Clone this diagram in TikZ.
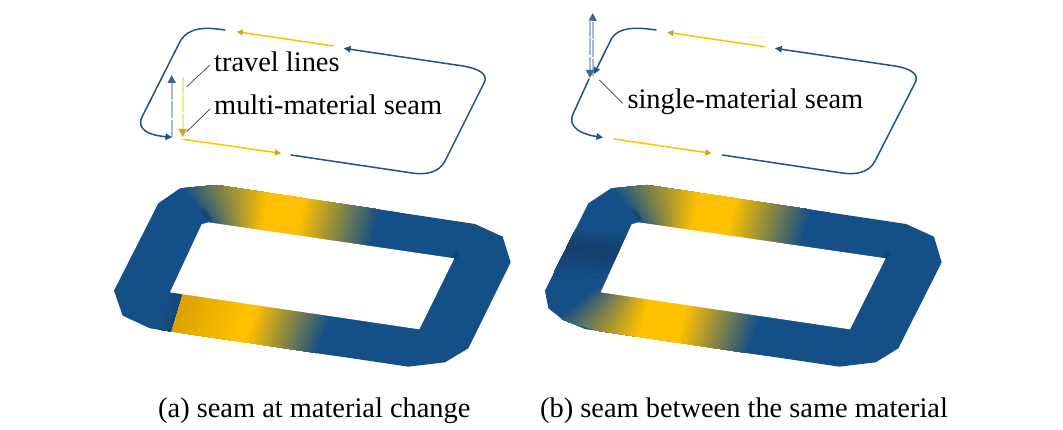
\documentclass[tikz,border=0pt]{standalone}
\usepackage{fontspec}
\setmainfont{Liberation Serif}
\usetikzlibrary{arrows.meta,calc}
\definecolor{bluew}{HTML}{1F5288}
\definecolor{goldw}{HTML}{FFC000}
\definecolor{ringb}{HTML}{154F87}
\definecolor{ringd}{HTML}{10385F}
\definecolor{ringm}{HTML}{123F6B}
\definecolor{rings}{HTML}{14487A}
\definecolor{ringg}{HTML}{FFC000}
\definecolor{ringgd}{HTML}{D9A000}
\definecolor{paleb}{HTML}{A7BBD5}
\definecolor{paleg}{HTML}{FFE08A}
\definecolor{tipb}{HTML}{3E6790}
\definecolor{tipg}{HTML}{D2A51E}
\tikzset{
 wire/.style={line width=1.5pt,line cap=round},
 bluewire/.style={wire,draw=bluew},
 goldwire/.style={wire,draw=goldw},
 btip/.style={-{Triangle[length=6.5pt,width=6.5pt,color=bluew]}},
 gtip/.style={-{Triangle[length=6pt,width=6pt,color=tipg]}},
 travelb/.style={line width=1.8pt,draw=paleb,dash pattern=on 17pt off 1.5pt,-{Triangle[length=8pt,width=8pt,color=tipb]}},
 travelg/.style={line width=1.8pt,draw=paleg,dash pattern=on 17pt off 1.5pt,-{Triangle[length=8pt,width=8pt,color=tipg]}},
 lead/.style={line width=0.7pt,draw=black!75},
 lab/.style={anchor=base west,inner sep=0pt,font=\fontsize{28.4}{30}\selectfont},
 captext/.style={anchor=base west,inner sep=0pt,font=\fontsize{28.4}{30}\selectfont},
 zoomcs/.style={x=0.33333pt,y=-0.33333pt,shift={(#1,-175pt)}}
}
% gradient between two isolines a1-a2 and b1-b2
\newcommand{\gradq}[6]{%
 \foreach \i in {0,...,40}{%
  \pgfmathsetmacro\tfrac{\i/40}\pgfmathsetmacro\pp{100-100*\tfrac}%
  \fill[#5!\pp!#6] ($#1!\tfrac!#3$) -- ($#2!\tfrac!#4$) -- #4 -- #3 -- cycle;
 }}
\newcommand{\softline}[2]{%
 \foreach \w in {18,12,7}{\draw[ringd,opacity=.2,line width=\w*0.33pt,line cap=round] #1 -- #2;}}
\begin{document}
\begin{tikzpicture}[x=1pt,y=-1pt]
\useasboundingbox (0,0) rectangle (1063,430);
%
% ---- left ring
\begin{scope}[zoomcs=100pt]
 \begin{scope}
  \clip (240,40)--(350,30)--(1125,147)--(1208,185)--(1232,262)--(1105,520)--(1035,562)--(925,575)--(150,460)--(68,422)--(42,347)--(175,85)--cycle;
  \fill[ringb] (0,0) rectangle (1260,600);
  \gradq{(228,22)}{(335,150)}{(510,40)}{(476,190)}{ringb}{ringg}
  \gradq{(510,40)}{(476,190)}{(615,50)}{(582,195)}{ringg}{ringg}
  \gradq{(615,50)}{(582,195)}{(842,85)}{(806,235)}{ringg}{ringb}
  \fill[ringb] (842,85) -- (806,235) -- (900,245) -- (900,95) -- cycle;
  \softline{(312,108)}{(328,132)}
  \softline{(1070,235)}{(1062,250)}
  \gradq{(250,345)}{(205,480)}{(440,370)}{(395,510)}{ringgd}{ringg}
  \gradq{(440,370)}{(395,510)}{(470,375)}{(435,510)}{ringg}{ringg}
  \gradq{(470,375)}{(435,510)}{(695,415)}{(645,545)}{ringg}{ringb}
  \fill[ringb] (695,415) -- (645,545) -- (700,560) -- (740,420) -- cycle;
  \gradq{(205,345)}{(170,475)}{(247,352)}{(210,475)}{ringb}{rings}
 \end{scope}
 \fill[white] (325,142)--(1063,250)--(958,463)--(210,352)--(305,148)--cycle;
\end{scope}
%
% ---- right ring
\begin{scope}[zoomcs=530pt]
 \begin{scope}
  \clip (243,40)--(352,30)--(1128,147)--(1212,185)--(1235,262)--(1105,520)--(1037,562)--(928,575)--(165,462)--(100,435)--(55,400)--(45,347)--(175,85)--cycle;
  \fill[ringb] (0,0) rectangle (1260,600);
  \gradq{(228,22)}{(335,150)}{(510,40)}{(476,190)}{ringb}{ringg}
  \gradq{(510,40)}{(476,190)}{(618,50)}{(585,195)}{ringg}{ringg}
  \gradq{(618,50)}{(585,195)}{(845,85)}{(806,235)}{ringg}{ringb}
  \fill[ringb] (845,85) -- (806,235) -- (900,245) -- (900,95) -- cycle;
  \softline{(312,108)}{(328,132)}
  \softline{(1073,235)}{(1065,250)}
  \gradq{(120,160)}{(320,170)}{(100,218)}{(300,235)}{ringb}{ringm}
  \gradq{(100,218)}{(300,235)}{(70,300)}{(270,310)}{ringm}{ringb}
  \gradq{(195,340)}{(75,430)}{(355,365)}{(320,500)}{ringb}{ringg}
  \gradq{(355,365)}{(320,500)}{(470,375)}{(440,510)}{ringg}{ringg}
  \gradq{(470,375)}{(440,510)}{(695,415)}{(645,545)}{ringg}{ringb}
  \fill[ringb] (695,415) -- (645,545) -- (700,560) -- (740,420) -- cycle;
 \end{scope}
 \fill[white] (325,142)--(1067,250)--(960,463)--(212,352)--(305,148)--cycle;
\end{scope}
%
% ---- left tool path
\draw[travelb] (171.7,136.7) -- (171.7,75);
\draw[travelg] (182.7,76.7) -- (182.7,137);
\draw[bluewire] (225,30) .. controls (205,27) and (188,27) .. (180,41.7) -- (142.5,116) .. controls (135,130) and (150,136) .. (170,137);
\draw[bluewire,btip] (166,136.8) -- (172,137.3);
\draw[goldwire,gtip] (333.3,46) -- (236.7,31.7);
\draw[bluewire] (345,48.5) -- (463,66) .. controls (478,68.5) and (489,74) .. (484,83) -- (445,161) .. controls (439,173) and (425,175) .. (412,173) -- (291,155);
\draw[bluewire,btip] (350,49.2) -- (344,48.3);
\draw[goldwire,gtip] (183.3,139.3) -- (281,153.3);
\coordinate (tlend) at (186.7,86.7);
\coordinate (mmend) at (186.7,131.7);
\node[lab] (tl) at (214,72) {travel lines};
\node[lab] (mm) at (214,115) {multi-material seam};
\draw[lead] (210,65) -- (tlend);
\draw[lead] (210,109) -- (mmend);
%
% ---- right tool path
\draw[travelb] (592.7,76) -- (592.7,13);
\draw[travelb] (590,20) -- (590,78);
\draw[bluewire,btip] (656,30) .. controls (636,27) and (619,27) .. (611.7,38.3) -- (594,74);
\draw[bluewire] (589,79) -- (573.5,113) .. controls (566,127) and (582,135) .. (600,137);
\draw[bluewire,btip] (597,136.6) -- (603,137.5);
\draw[goldwire,gtip] (764.3,46.7) -- (667.3,32.3);
\draw[bluewire] (776,48.5) -- (895,66) .. controls (910,68.5) and (920,74) .. (915,83) -- (875,161) .. controls (869,173) and (855,175) .. (842,173) -- (722.3,155);
\draw[bluewire,btip] (781,49.2) -- (775.3,48.3);
\draw[goldwire,gtip] (614,139) -- (711.3,153.3);
\coordinate (smend) at (599.3,80);
\node[lab] (sm) at (627.3,109) {single-material seam};
\draw[lead] (622.7,103.3) -- (smend);
%
% ---- captions
\node[captext] (capa) at (158,417) {(a) seam at material change};
\node[captext] (capb) at (540,417) {(b) seam between the same material};
\end{tikzpicture}
\end{document}
